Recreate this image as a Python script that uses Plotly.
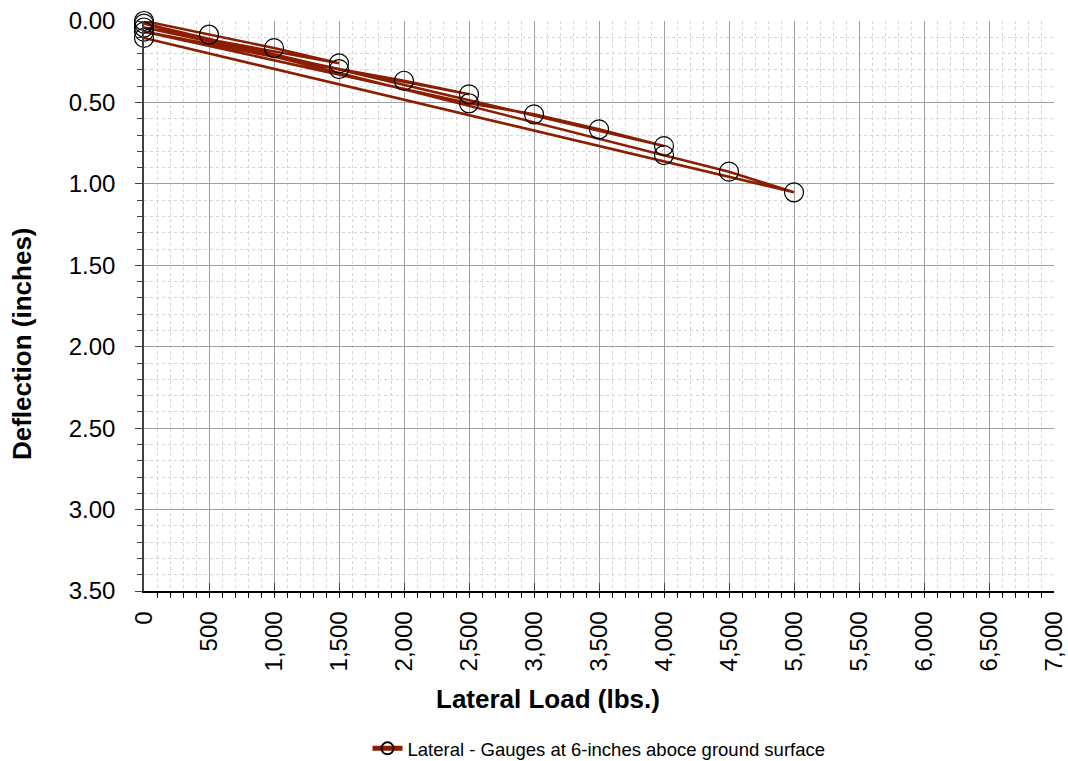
import plotly.graph_objects as go

# Cyclic lateral load test: applied load and measured deflection, in reading order
load_lbs = [0, 500, 1000, 1500, 0, 1500, 2000, 2500, 0, 2500, 3000, 3500, 4000, 0, 4000, 4500, 5000, 0]
deflection_in = [0.000, 0.084, 0.166, 0.260, 0.040, 0.295, 0.367, 0.450, 0.065, 0.505,
                 0.573, 0.665, 0.768, 0.016, 0.823, 0.925, 1.052, 0.104]

series_name = "Lateral - Gauges at 6-inches aboce ground surface"
x_title = "Lateral Load (lbs.)"
y_title = "Deflection (inches)"
x_tick_values = list(range(0, 7001, 500))
y_tick_values = [0.0, 0.5, 1.0, 1.5, 2.0, 2.5, 3.0, 3.5]

FONT = "Liberation Sans, Arial, sans-serif"
LINE_RED = "#8b1d00"
TICK_SIZE = 24
TITLE_SIZE = 26

fig = go.Figure()
fig.add_trace(go.Scatter(
    x=load_lbs,
    y=deflection_in,
    mode="lines+markers",
    name=series_name,
    line=dict(color=LINE_RED, width=2.6),
    marker=dict(symbol="circle-open", size=19, color="black", line=dict(width=1.2, color="black")),
    cliponaxis=False,
))

fig.update_layout(
    width=1068,
    height=761,
    margin=dict(l=144, r=14, t=21, b=170, autoexpand=False),
    paper_bgcolor="white",
    plot_bgcolor="white",
    font=dict(family=FONT, size=TICK_SIZE, color="black"),
    showlegend=True,
    legend=dict(
        orientation="h",
        x=0.5, xanchor="center",
        yref="container",
        y=0.016, yanchor="middle",
        font=dict(family=FONT, size=18.5, color="black"),
        itemsizing="constant",
    ),
)

# Axis titles placed as annotations so they sit where the layout needs them
fig.add_annotation(
    text=f"<b>{x_title}</b>", xref="paper", yref="paper",
    x=0.444, y=-0.1895, xanchor="center", yanchor="middle",
    showarrow=False, font=dict(family=FONT, size=TITLE_SIZE, color="black"),
)
fig.add_annotation(
    text=f"<b>{y_title}</b>", xref="paper", yref="paper",
    x=-0.134, y=0.4333, xanchor="center", yanchor="middle", textangle=-90,
    showarrow=False, font=dict(family=FONT, size=TITLE_SIZE, color="black"),
)

fig.update_xaxes(
    range=[0, 7000],
    tickvals=x_tick_values,
    tickformat=",",
    tickangle=-90,
    ticks="inside", ticklen=8, tickcolor="#404040",
    ticklabelstandoff=9,
    showline=True, linecolor="black", linewidth=1.5,
    showgrid=True, gridcolor="#a0a0a0", gridwidth=1,
    zeroline=False,
    automargin=False,
    minor=dict(dtick=100, ticks="outside", ticklen=5, tickcolor="black",
               showgrid=True, gridcolor="#d4d4d4", griddash="dot", gridwidth=1),
    tickfont=dict(size=TICK_SIZE),
)

fig.update_yaxes(
    range=[3.5, 0],
    tickvals=y_tick_values,
    tickformat=".2f",
    ticks="outside", ticklen=7, tickcolor="#404040",
    ticklabelstandoff=15,
    showline=True, linecolor="#404040", linewidth=1.5,
    showgrid=True, gridcolor="#a0a0a0", gridwidth=1,
    zeroline=False,
    automargin=False,
    minor=dict(dtick=0.1, ticks="outside", ticklen=5, tickcolor="#404040",
               showgrid=True, gridcolor="#d4d4d4", griddash="dot", gridwidth=1),
    tickfont=dict(size=TICK_SIZE),
)

fig.write_html("out.html")
